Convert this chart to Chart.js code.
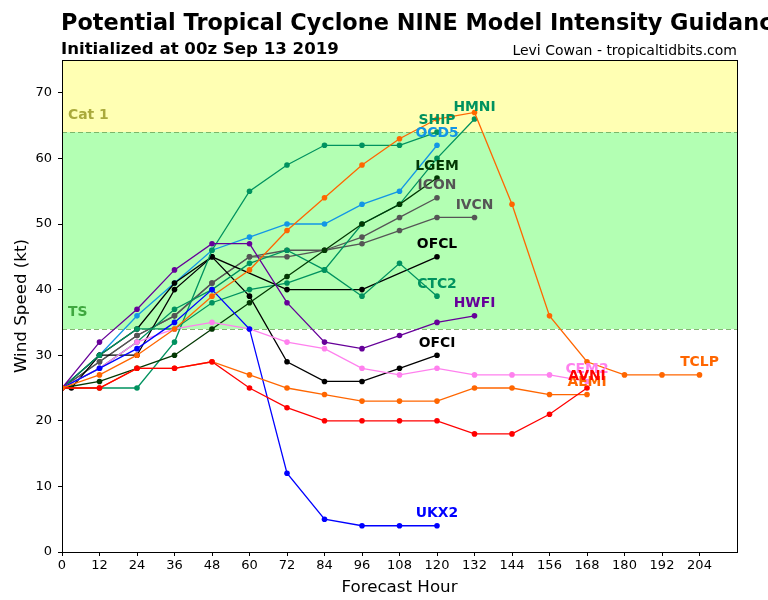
<!DOCTYPE html>
<html>
<head>
<meta charset="utf-8">
<script src="https://cdn.jsdelivr.net/npm/chart.js@4"></script>
<style>
  html, body { margin:0; padding:0; background:#fff; overflow:hidden; width:768px; height:600px; }
  #wrap { position:relative; width:768px; height:600px; overflow:hidden; }
  canvas { position:absolute; left:0; top:0; }
  .t { position:absolute; white-space:nowrap; font-family:"DejaVu Sans", sans-serif; color:#000; line-height:1; }
</style>
</head>
<body>
<div id="wrap">
  <canvas id="c" width="768" height="600"></canvas>
  <div class="t" style="left:61px; top:11px; font-size:22.4px; font-weight:bold;">Potential Tropical Cyclone NINE Model Intensity Guidance</div>
  <div class="t" style="left:61px; top:41px; font-size:16.6px; font-weight:bold;">Initialized at 00z Sep 13 2019</div>
  <div class="t" style="right:31px; top:43px; font-size:14px;">Levi Cowan - tropicaltidbits.com</div>
</div>
<script>
// ---- data ----
const HOURS = [0,12,24,36,48,60,72,84,96,108,120,132,144,156,168,180,192,204];
const OFCL_HOURS = [0,3,12,24,36,48,72,96,120];
const X_TICKS = [0,12,24,36,48,60,72,84,96,108,120,132,144,156,168,180,192,204];
const Y_TICKS = [0,10,20,30,40,50,60,70];

const TCLP = [25,27,30,34,39,43,49,54,59,63,66,67,53,36,29,27,27,27];
const AEMI = [25,25,28,28,29,27,25,24,23,23,23,25,25,24,24];
const AVNI = [25,25,28,28,29,25,22,20,20,20,20,18,18,21,25];
const CEM2 = [25,28,32,34,35,34,32,31,28,27,28,27,27,27,26];
const UKX2 = [25,28,31,35,40,34,12,5,4,4,4];
const HWFI = [25,32,37,43,47,47,38,32,31,33,35,36];
const OFCI = [25,30,30,40,45,39,29,26,26,28,30];
const OFCL = [25,25,30,34,41,45,40,40,45];
const CTC2 = [25,28,32,37,40,44,46,43,39,44,39];
const IVCN = [25,29,33,36,41,45,46,46,47,49,51,51];
const ICON = [25,29,33,36,41,45,45,46,48,51,54];
const LGEM = [25,26,28,30,34,38,42,46,50,53,57];
const OCD5 = [25,30,36,41,46,48,50,50,53,55,62];
const HMNI = [25,30,34,34,38,40,41,43,50,53,60,66];
const SHIP = [25,25,25,32,46,55,59,62,62,62,64];

const CAT1_MIN = 64, TS_MIN = 34;

// ---- series definitions (listed bottom -> top) ----
const TEAL = '#00925f';
const series = [
  ['OCD5', OCD5, HOURS, '#1296e6'],
  ['IVCN', IVCN, HOURS, '#555555'],
  ['ICON', ICON, HOURS, '#555555'],
  ['OFCI', OFCI, HOURS, '#000000'],
  ['OFCL', OFCL, OFCL_HOURS, '#000000'],
  ['CTC2', CTC2, HOURS, TEAL],
  ['HMNI', HMNI, HOURS, TEAL],
  ['SHIP', SHIP, HOURS, TEAL],
  ['LGEM', LGEM, HOURS, '#033803'],
  ['HWFI', HWFI, HOURS, '#660099'],
  ['CEM2', CEM2, HOURS, '#ff80ee'],
  ['UKX2', UKX2, HOURS, '#0000ff'],
  ['AEMI', AEMI, HOURS, '#ff6600'],
  ['AVNI', AVNI, HOURS, '#ff0000'],
  ['TCLP', TCLP, HOURS, '#ff6600'],
];

// Chart.js paints the first dataset on top, so reverse the bottom->top list
const datasets = series.slice().reverse().map(([name, vals, hrs, col]) => ({
  label: name,
  data: vals.map((v, i) => ({x: hrs[i], y: v})),
  borderColor: col,
  backgroundColor: col,
  borderWidth: 1.3,
  pointRadius: 2.8,
  pointHoverRadius: 2.8,
  pointBorderWidth: 0,
  fill: false,
  tension: 0,
}));

const bandsPlugin = {
  id: 'bands',
  beforeDatasetsDraw(chart) {
    const {ctx, chartArea: a, scales: {y}} = chart;
    const yTop = y.getPixelForValue(y.max);
    const y64 = y.getPixelForValue(CAT1_MIN);
    const y34 = y.getPixelForValue(TS_MIN);
    ctx.save();
    ctx.fillStyle = '#ffffb3';
    ctx.fillRect(a.left, yTop, a.right - a.left, y64 - yTop);
    ctx.fillStyle = '#b3ffb3';
    ctx.fillRect(a.left, y64, a.right - a.left, y34 - y64);
    ctx.strokeStyle = 'rgba(110,170,90,0.85)';
    ctx.lineWidth = 1;
    ctx.setLineDash([5, 3]);
    [y64, y34].forEach(yy => {
      ctx.beginPath();
      ctx.moveTo(a.left, Math.round(yy) + 0.5);
      ctx.lineTo(a.right, Math.round(yy) + 0.5);
      ctx.stroke();
    });
    ctx.setLineDash([]);
    ctx.font = 'bold 13.9px "DejaVu Sans"';
    ctx.textBaseline = 'middle';
    ctx.textAlign = 'left';
    ctx.fillStyle = '#aaaa3c';
    ctx.fillText('Cat 1', a.left + 6, y64 - 17);
    ctx.fillStyle = '#40a840';
    ctx.fillText('TS', a.left + 6, y34 - 17);
    ctx.restore();
  },
  afterDatasetsDraw(chart) {
    const {ctx, chartArea: a} = chart;
    ctx.save();
    ctx.font = 'bold 13.9px "DejaVu Sans"';
    ctx.textAlign = 'center';
    ctx.textBaseline = 'middle';
    const n = chart.data.datasets.length;
    for (let i = n - 1; i >= 0; i--) {
      const ds = chart.data.datasets[i];
      const meta = chart.getDatasetMeta(i);
      const last = meta.data[meta.data.length - 1];
      ctx.fillStyle = ds.borderColor;
      ctx.fillText(ds.label, last.x, last.y - 12);
    }
    ctx.strokeStyle = '#000';
    ctx.lineWidth = 1;
    ctx.strokeRect(Math.round(a.left) + 0.5, Math.round(a.top) + 0.5, Math.round(a.right - a.left), Math.round(a.bottom - a.top));
    ctx.restore();
  }
};

new Chart(document.getElementById('c'), {
  type: 'line',
  data: { datasets },
  plugins: [bandsPlugin],
  options: {
    responsive: false,
    animation: false,
    events: [],
    layout: { padding: { left: 0, top: 60, right: 31, bottom: 0 } },
    plugins: { legend: { display: false }, tooltip: { enabled: false } },
    scales: {
      x: {
        type: 'linear', min: 0, max: 216,
        afterFit: s => { s.height = 48; },
        afterBuildTicks: s => { s.ticks = X_TICKS.map(v => ({value: v})); },
        ticks: { color: '#000', font: { family: 'DejaVu Sans', size: 13 }, padding: 2, maxRotation: 0, autoSkip: false },
        grid: { display: true, drawOnChartArea: false, drawTicks: true, tickLength: 4, color: '#000' },
        border: { display: true, color: '#000', width: 1 },
        title: { display: true, text: 'Forecast Hour', color: '#000', font: { family: 'DejaVu Sans', size: 16.7 }, padding: { top: 0, bottom: 2 } }
      },
      y: {
        type: 'linear', min: 0, max: 75,
        afterFit: s => { s.width = 62; },
        afterBuildTicks: s => { s.ticks = Y_TICKS.map(v => ({value: v})); },
        ticks: { color: '#000', font: { family: 'DejaVu Sans', size: 13 }, padding: 6 },
        grid: { display: true, drawOnChartArea: false, drawTicks: true, tickLength: 4, color: '#000' },
        border: { display: true, color: '#000', width: 1 },
        title: { display: true, text: 'Wind Speed (kt)', color: '#000', font: { family: 'DejaVu Sans', size: 16.7 }, padding: { top: 12, bottom: 0 } }
      }
    }
  }
});
</script>
</body>
</html>
